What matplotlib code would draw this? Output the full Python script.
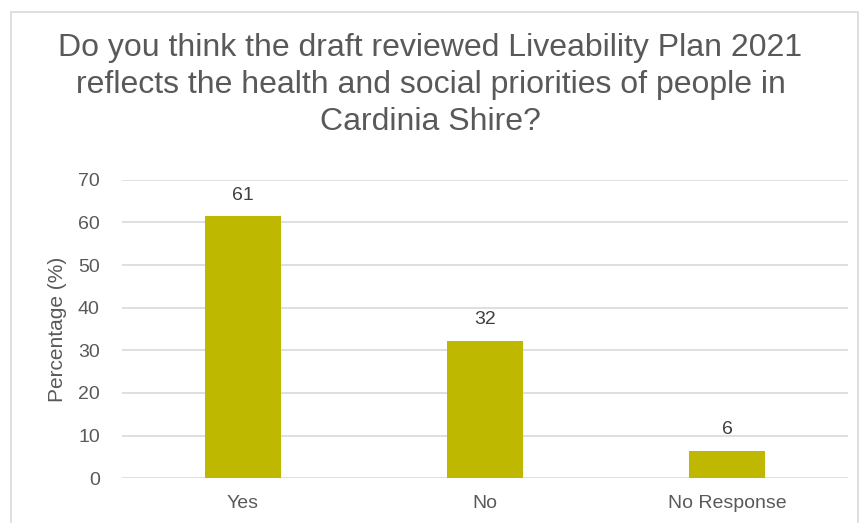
import matplotlib
matplotlib.use("Agg")
import matplotlib.pyplot as plt
from matplotlib.patches import Rectangle

categories = ["Yes", "No", "No Response"]
values = [61.4, 32.2, 6.4]
yticks = [0, 10, 20, 30, 40, 50, 60, 70]
title = ("Do you think the draft reviewed Liveability Plan 2021\n"
         "reflects the health and social priorities of people in\n"
         "Cardinia Shire?")

plt.rcParams['font.family'] = ['Liberation Sans', 'DejaVu Sans']

fig = plt.figure(figsize=(8.61, 5.23), dpi=100)
ax = fig.add_axes([0.1417, 0.0855, 0.8433, 0.5709])

x = range(len(categories))
bars = ax.bar(x, values, width=0.314, color="#BFB800", zorder=3)
for b, v in zip(bars, values):
    ax.text(b.get_x() + b.get_width() / 2, v + 3.0, f"{v:.0f}",
            ha="center", va="bottom", fontsize=14, color="#404040")

ax.set_xlim(-0.5, 2.5)
ax.set_ylim(0, 70)
ax.set_yticks(yticks)
ax.set_xticks(list(x))
ax.set_xticklabels(categories)
ax.tick_params(length=0, labelsize=14, labelcolor="#595959")
ax.tick_params(axis="y", pad=16)
ax.tick_params(axis="x", pad=12)
ax.grid(axis="y", color="#D9D9D9", linewidth=1.2, zorder=0)
for s in ax.spines.values():
    s.set_visible(False)
ax.set_ylabel("Percentage (%)", fontsize=15, color="#595959", labelpad=8)

fig.text(0.5, 1 - 85 / 523, title, ha="center", va="center",
         fontsize=23, color="#595959", linespacing=1.3)

fig.patches.append(Rectangle((11 / 861, -0.01), 847 / 861, 1 - 12 / 523 + 0.01,
                             transform=fig.transFigure, fill=False,
                             edgecolor="#D9D9D9", linewidth=1.2))

fig.savefig("out.png", dpi=100)
